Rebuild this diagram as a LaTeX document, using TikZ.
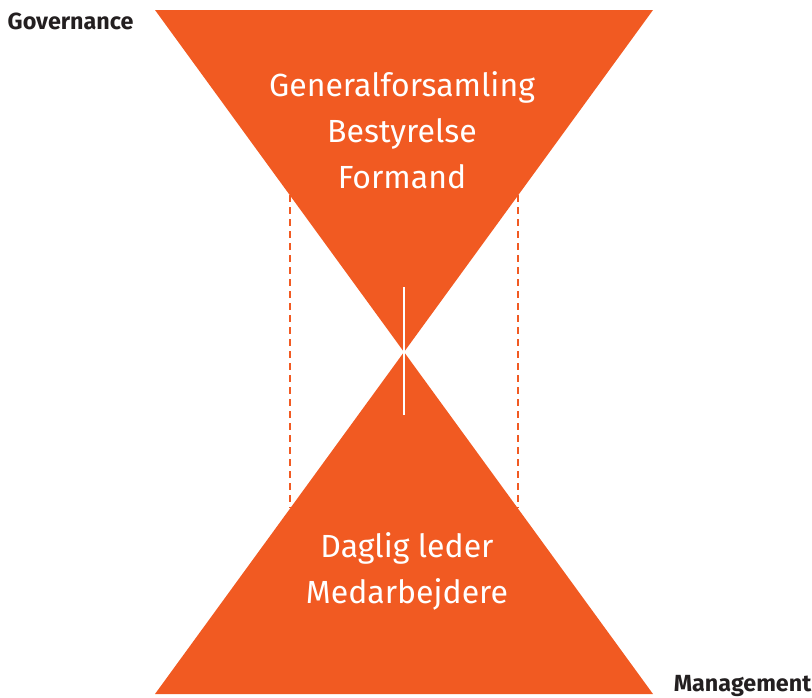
\documentclass[tikz,border=0pt]{standalone}
\usepackage{fontspec}
\setmainfont{Fira Sans}
\definecolor{hourorange}{HTML}{F15A22}
\definecolor{labelgray}{HTML}{231F20}
\begin{document}
\begin{tikzpicture}[x=0.75pt,y=-0.75pt]

		\useasboundingbox (0,0) rectangle (812,697);

		\coordinate (tl) at (155,10);
		\coordinate (tr) at (653,10);
		\coordinate (mid) at (404,352);
		\coordinate (bl) at (155,694);
		\coordinate (br) at (653,694);

		\fill[hourorange] (tl) -- (tr) -- (mid) -- cycle;
		\fill[hourorange] (bl) -- (br) -- (mid) -- cycle;

		\draw[hourorange, line width=1.8pt, dash pattern=on 5.5pt off 3.5pt] (290,195) -- (290,508);
		\draw[hourorange, line width=1.8pt, dash pattern=on 5.5pt off 3.5pt] (518,195) -- (518,508);

		\draw[white, line width=2.2pt] (404,287) -- (404,415);

		\node[white, font=\fontsize{24}{34.5}\selectfont, align=center] (top) at (402,130) {Generalforsamling\\Bestyrelse\\Formand};
		\node[white, font=\fontsize{24}{34.5}\selectfont, align=center] (bottom) at (407,571) {Daglig leder\\Medarbejdere};

		\node[labelgray, font=\fontsize{17.5}{20}\selectfont\bfseries, anchor=west] (gov) at (3,21) {Governance};
		\node[labelgray, font=\fontsize{17.5}{20}\selectfont\bfseries, anchor=east] (man) at (816,686) {Management};

\end{tikzpicture}
\end{document}
